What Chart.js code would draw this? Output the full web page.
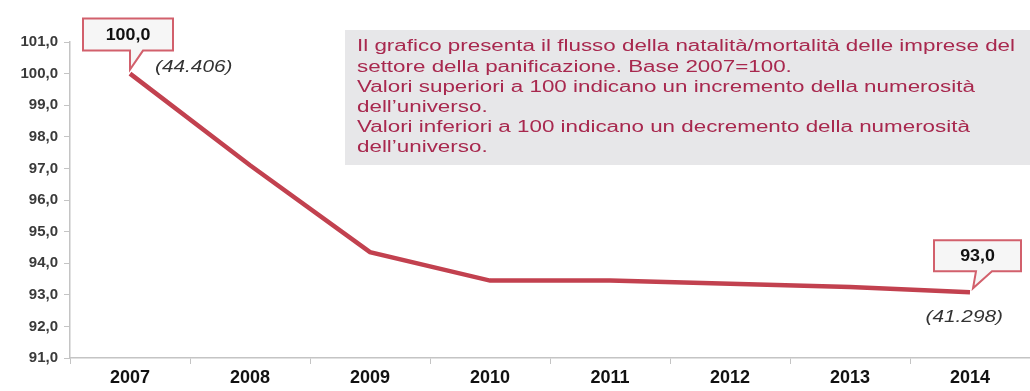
<!DOCTYPE html>
<html>
<head>
<meta charset="utf-8">
<script src="https://cdn.jsdelivr.net/npm/chart.js@4/dist/chart.umd.min.js"></script>
<style>
  html, body { margin: 0; padding: 0; background: #fff; }
  #wrap { width: 1030px; height: 391px; }
</style>
</head>
<body>
<div id="wrap"><canvas id="chart" width="1030" height="391"></canvas></div>
<script>
// Data
const years = ['2007', '2008', '2009', '2010', '2011', '2012', '2013', '2014'];
const indexValues = [100.0, 97.1, 94.35, 93.45, 93.45, 93.35, 93.25, 93.08];
const yMin = 91;
const yMax = 101;
const calloutIndex = [0, 7];
const calloutValues = ['100,0', '93,0'];
const calloutCounts = ['(44.406)', '(41.298)'];
const noteLines = [
    'Il grafico presenta il flusso della natalità/mortalità delle imprese del',
    'settore della panificazione. Base 2007=100.',
    'Valori superiori a 100 indicano un incremento della numerosità',
    'dell\u2019universo.',
    'Valori inferiori a 100 indicano un decremento della numerosità',
    'dell\u2019universo.'
];

const lineColor = '#c2414f';
const noteColor = '#a8284e';
const FONT = 'Arial, "Liberation Sans", sans-serif';

// draws text squeezed/stretched horizontally by sx
function drawText(ctx, text, x, y, align, sx) {
    ctx.save();
    ctx.translate(x, y);
    ctx.scale(sx, 1);
    ctx.textAlign = align;
    ctx.fillText(text, 0, 0);
    ctx.restore();
}

const notePlugin = {
    id: 'noteBox',
    beforeDatasetsDraw(chart) {
        const ctx = chart.ctx;
        ctx.save();
        ctx.fillStyle = '#e7e7e9';
        ctx.fillRect(345, 30, 685, 135);
        ctx.font = '16px ' + FONT;
        ctx.fillStyle = noteColor;
        ctx.textBaseline = 'middle';
        const sx = 658 / ctx.measureText(noteLines[0]).width;
        noteLines.forEach((t, i) => {
            drawText(ctx, t, 357, 47 + i * 20.2, 'left', sx);
        });
        ctx.restore();
    }
};

const calloutPlugin = {
    id: 'callouts',
    afterDatasetsDraw(chart) {
        const ctx = chart.ctx;
        const meta = chart.getDatasetMeta(0);
        calloutIndex.forEach((idx, k) => {
            const p = meta.data[idx];
            let box, tail, countPos;
            if (k === 0) {
                box = { x: p.x - 47, y: p.y - 55, w: 90, h: 32 };
                tail = [[p.x, box.y + box.h], [p.x + 13, box.y + box.h], [p.x, p.y - 4]];
                countPos = { x: p.x + 25, y: p.y - 6, align: 'left' };
            } else {
                box = { x: p.x - 36, y: p.y - 52, w: 87, h: 31 };
                tail = [[p.x + 6, box.y + box.h], [p.x + 22, box.y + box.h], [p.x + 3, p.y - 4]];
                countPos = { x: p.x + 33, y: p.y + 25, align: 'right' };
            }
            ctx.save();
            ctx.lineWidth = 2;
            ctx.strokeStyle = '#d2606c';
            ctx.fillStyle = '#f6f6f6';
            ctx.beginPath();
            ctx.moveTo(box.x, box.y);
            ctx.lineTo(box.x + box.w, box.y);
            ctx.lineTo(box.x + box.w, box.y + box.h);
            ctx.lineTo(tail[1][0], tail[1][1]);
            ctx.lineTo(tail[2][0], tail[2][1]);
            ctx.lineTo(tail[0][0], tail[0][1]);
            ctx.lineTo(box.x, box.y + box.h);
            ctx.closePath();
            ctx.fill();
            ctx.stroke();

            ctx.fillStyle = '#111';
            ctx.font = 'bold 17px ' + FONT;
            ctx.textBaseline = 'middle';
            drawText(ctx, calloutValues[k], box.x + box.w / 2, box.y + box.h / 2 + 1, 'center', 1.05);

            ctx.fillStyle = '#333';
            ctx.font = 'italic 16px ' + FONT;
            drawText(ctx, calloutCounts[k], countPos.x, countPos.y, countPos.align, 1.3);
            ctx.restore();
        });
    }
};

const ctx = document.getElementById('chart').getContext('2d');
new Chart(ctx, {
    type: 'line',
    data: {
        labels: years,
        datasets: [{
            data: indexValues,
            borderColor: lineColor,
            borderWidth: 4.5,
            pointRadius: 0,
            tension: 0,
            fill: false
        }]
    },
    options: {
        responsive: false,
        animation: false,
        layout: { padding: { top: 42, right: 0, left: 0, bottom: 0 } },
        plugins: {
            legend: { display: false },
            tooltip: { enabled: false }
        },
        scales: {
            x: {
                offset: true,
                grid: { offset: true, drawOnChartArea: false, drawTicks: true, tickLength: 6, color: '#c4c4c4' },
                border: { display: true, color: '#c4c4c4', width: 1.5 },
                ticks: { color: '#111', font: { family: FONT, size: 18, weight: 'bold' }, padding: 3, maxRotation: 0 },
                afterFit(scale) { scale.height = 33; }
            },
            y: {
                min: yMin,
                max: yMax,
                grid: { drawOnChartArea: false, drawTicks: true, tickLength: 6, color: '#c4c4c4' },
                border: { display: true, color: '#c4c4c4', width: 1.5 },
                ticks: {
                    stepSize: 1,
                    color: '#3a3a3a',
                    font: { family: FONT, size: 15, weight: 'bold' },
                    padding: 6,
                    callback: v => v.toFixed(1).replace('.', ',')
                },
                afterFit(scale) { scale.width = 70; }
            }
        }
    },
    plugins: [notePlugin, calloutPlugin]
});
</script>
</body>
</html>
